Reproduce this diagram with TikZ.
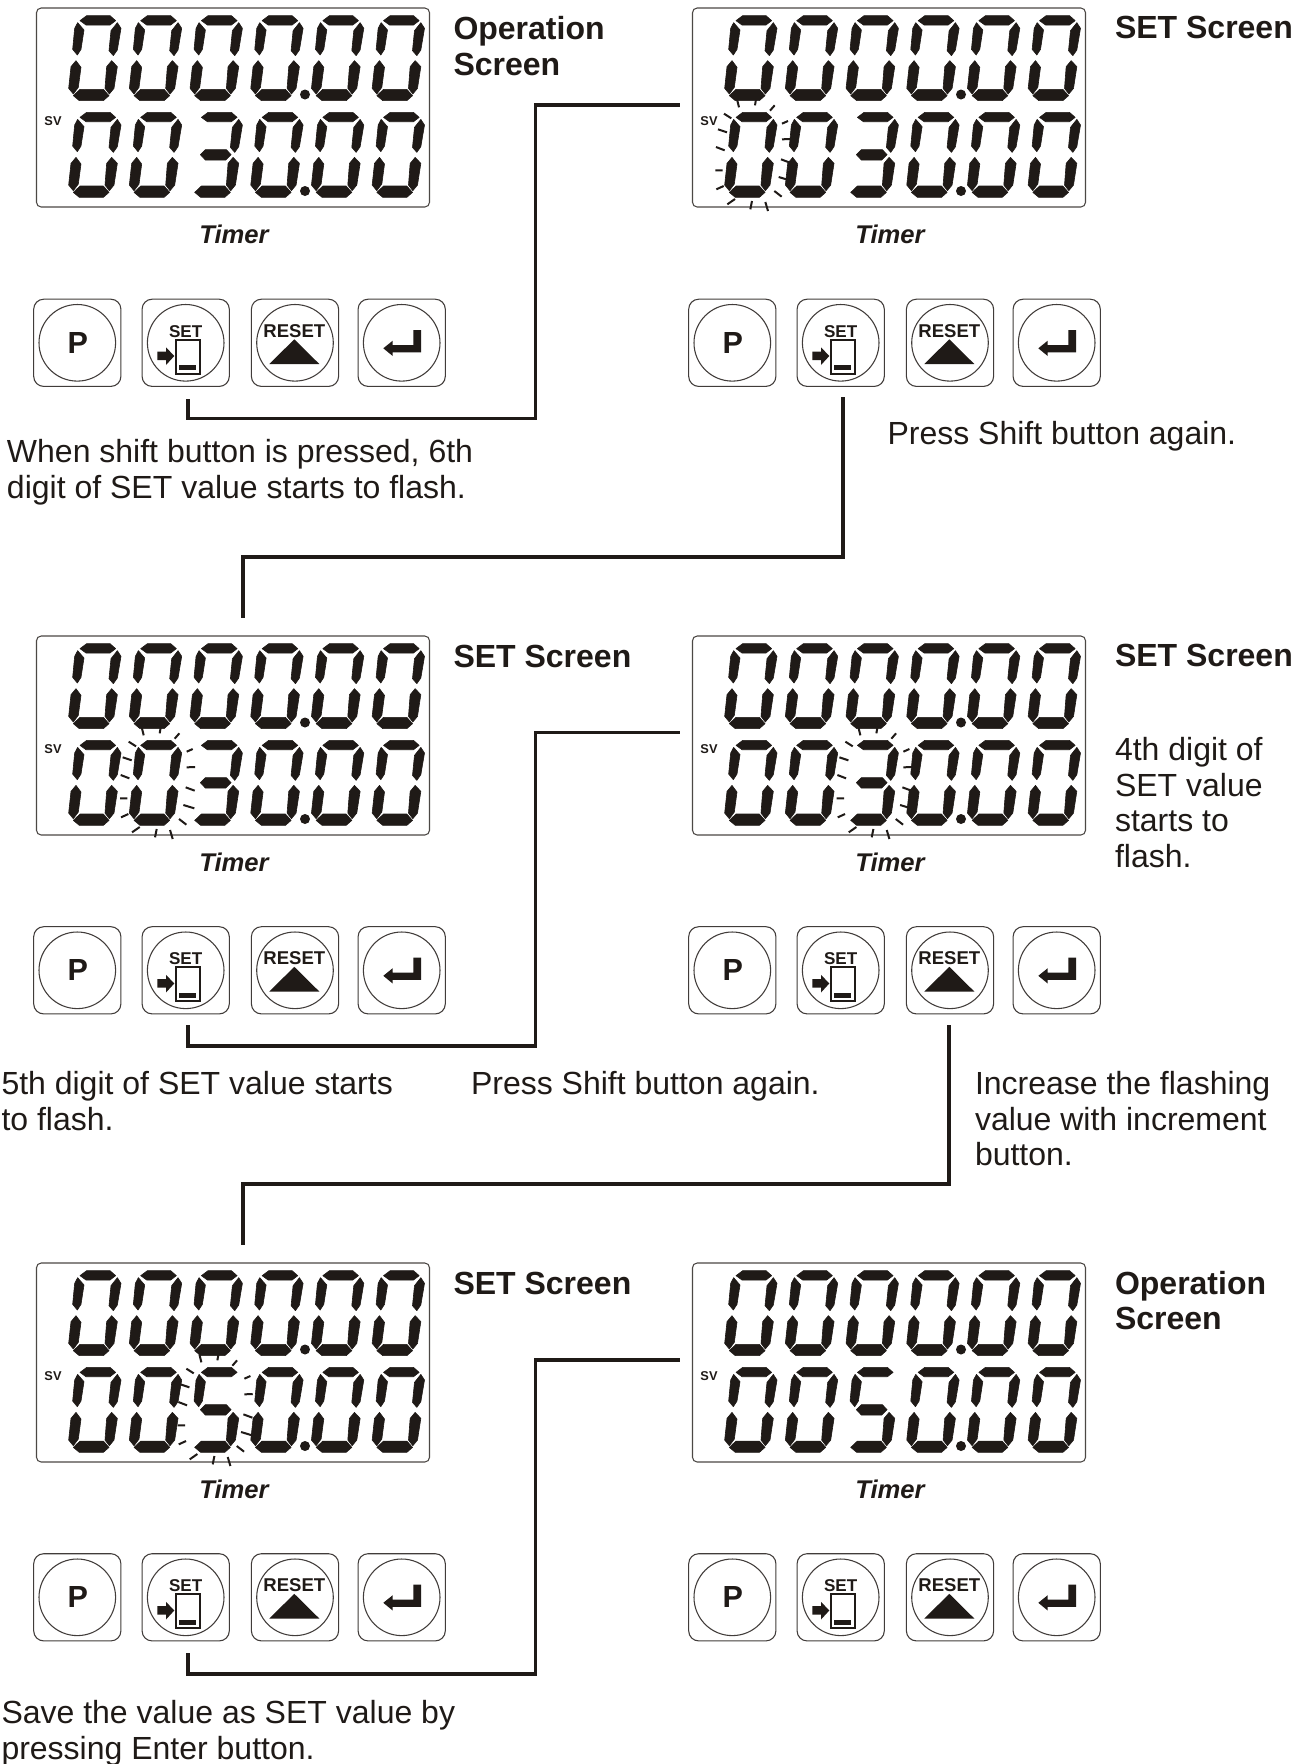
\documentclass[tikz,border=0pt]{standalone}
\usepackage{fontspec}
\setmainfont{Liberation Sans}
\definecolor{ink}{HTML}{1F1A17}
\tikzset{
  x=0.75pt,y=-0.75pt,
  lcd/.style={fill=ink,draw=ink,line width=0.45pt,line join=round},
  panelbox/.style={draw=ink!80,line width=0.8pt,rounded corners=3.5pt,fill=white},
  btnbox/.style={draw=ink!85,line width=0.8pt,rounded corners=7.5pt,fill=white},
  btncirc/.style={draw=ink!85,line width=0.8pt,fill=white},
  conn/.style={draw=ink,line width=2.5pt,line cap=butt,line join=miter},
  tick/.style={draw=ink,line width=1.5pt},
  body/.style={anchor=base west,inner sep=0pt,outer sep=0pt,text=ink,font=\fontsize{24}{28}\selectfont},
  head/.style={body,font=\fontsize{24}{28}\selectfont\bfseries},
  timer/.style={anchor=base,inner sep=0pt,text=ink,font=\fontsize{19.2}{22}\selectfont\bfseries\itshape},
  svlab/.style={anchor=center,inner sep=0pt,text=ink,font=\fontsize{9.6}{11}\selectfont\bfseries},
  btnlab/.style={anchor=base,inner sep=0pt,text=ink,font=\bfseries},
}
\def\sega{\fill[lcd] (60,32)--(80,17)--(150,17)--(167,32)--(150,45)--(78,45)--cycle;}
\def\segf{\fill[lcd] (53,38)--(72,60)--(63,118)--(52,135)--(38,118)--(44,55)--cycle;}
\def\segb{\fill[lcd] (172,38)--(183,55)--(172,120)--(160,137)--(147,122)--(153,62)--cycle;}
\def\sege{\fill[lcd] (48,152)--(63,172)--(55,232)--(40,252)--(26,235)--(33,170)--cycle;}
\def\segc{\fill[lcd] (155,152)--(172,170)--(162,235)--(148,252)--(135,235)--(140,170)--cycle;}
\def\segd{\fill[lcd] (40,257)--(60,238)--(130,238)--(147,257)--(130,272)--(58,272)--cycle;}
\def\segg{\fill[lcd] (57,144)--(72,129)--(135,129)--(149,144)--(133,160)--(72,160)--cycle;}
% digit: panel-x, panel-y, index, row, segments
\newcommand\lcddigit[5]{%
  \begin{scope}[shift={({#1+60+60.7*#3},{#2+10+96.7*#4})},x=0.25pt,y=-0.25pt]
    \foreach \s in {#5}{\csname seg\s\endcsname}
  \end{scope}}
\newcommand\lcdpanel[3]{%
  \path[panelbox] ({#1+36.5},{#2+8}) rectangle ({#1+429.5},{#2+207});
  \foreach \i in {0,...,5}{\lcddigit{#1}{#2}{\i}{0}{a,b,c,d,e,f}}
  \lcddigit{#1}{#2}{0}{1}{a,b,c,d,e,f}
  \lcddigit{#1}{#2}{1}{1}{a,b,c,d,e,f}
  \lcddigit{#1}{#2}{2}{1}{#3}
  \lcddigit{#1}{#2}{3}{1}{a,b,c,d,e,f}
  \lcddigit{#1}{#2}{4}{1}{a,b,c,d,e,f}
  \lcddigit{#1}{#2}{5}{1}{a,b,c,d,e,f}
  \fill[ink] ({#1+305},{#2+94.5}) circle[radius=5];
  \fill[ink] ({#1+305},{#2+191}) circle[radius=5];
  \node[svlab] at ({#1+53},{#2+121.5}) {SV};
  \node[timer] at ({#1+234},{#2+243}) {Timer};
}
% flash ticks around a digit: panel-x, panel-y, x offset
\newcommand\flash[3]{%
  \begin{scope}[shift={({#1+60+#3},{#2+10})},x=0.25pt,y=-0.25pt]
    \draw[tick,line width=1.5pt] (63,268)--(69,292) (120,268)--(117,286) (176,286)--(162,302) (24,311)--(46,325)
      (6,358)--(33,367) (0,411)--(26,421) (-2,481)--(20,481) (1,538)--(23,528)
      (34,583)--(57,567) (108,573)--(103,598) (148,576)--(156,603) (175,543)--(197,560)
      (188,501)--(221,511) (195,448)--(222,458) (198,388)--(223,387) (198,341)--(216,333);
  \end{scope}}
\newcommand\btnframe[2]{%
  \path[btnbox] ({#1-43.6},{#2-43.6}) rectangle ({#1+43.6},{#2+43.6});
  \path[btncirc] (#1,#2) circle[radius=38.3];}
\newcommand\buttons[2]{%
  \btnframe{#1+77.3}{#2+342.8}
  \node[btnlab,font=\fontsize{22.9}{24}\selectfont\bfseries] at ({#1+77.8},{#2+353}) {P};
  \btnframe{#1+185.7}{#2+342.8}
  \node[btnlab,font=\fontsize{12.8}{14}\selectfont\bfseries] at ({#1+185.7},{#2+337}) {SET};
  \draw[ink,line width=1.5pt] ({#1+175.8},{#2+339.5}) rectangle ({#1+200.2},{#2+373.5});
  \fill[ink] ({#1+179.3},{#2+365}) rectangle ({#1+196},{#2+370});
  \fill[ink] ({#1+157.3},{#2+351.7})--({#1+166},{#2+351.7})--({#1+166},{#2+347.3})--({#1+174.3},{#2+356})--({#1+166},{#2+365})--({#1+166},{#2+360})--({#1+157.3},{#2+360})--cycle;
  \btnframe{#1+295}{#2+342.8}
  \node[btnlab,font=\fontsize{13.9}{15}\selectfont\bfseries] at ({#1+294.3},{#2+337}) {RESET};
  \fill[ink] ({#1+269.3},{#2+364})--({#1+319.3},{#2+364})--({#1+294.3},{#2+339.3})--cycle;
  \btnframe{#1+401.7}{#2+342.8}
  \fill[ink] ({#1+421},{#2+330})--({#1+413.3},{#2+330})--({#1+413.3},{#2+345})--({#1+392.7},{#2+345})--({#1+392.7},{#2+340.7})--({#1+383.3},{#2+348.3})--({#1+392.7},{#2+356})--({#1+392.7},{#2+352.3})--({#1+421},{#2+352.3})--cycle;
}
\begin{document}
\begin{tikzpicture}
\useasboundingbox (0,0) rectangle (1306,1764);
\fill[white] (0,0) rectangle (1306,1764);
% panels
\lcdpanel{0}{0}{a,b,c,d,g}
\lcdpanel{656}{0}{a,b,c,d,g}
\lcdpanel{0}{628}{a,b,c,d,g}
\lcdpanel{656}{628}{a,b,c,d,g}
\lcdpanel{0}{1255}{a,f,g,c,d}
\lcdpanel{656}{1255}{a,f,g,c,d}
% flashing digits
\flash{656}{0}{0}
\flash{0}{628}{60.7}
\flash{656}{628}{121.4}
\flash{0}{1255}{118.4}
% buttons
\buttons{0}{0}
\buttons{655}{0}
\buttons{0}{627.5}
\buttons{655}{627.5}
\buttons{0}{1254.5}
\buttons{655}{1254.5}
% connectors
\coordinate (c1a) at (188,399);
\coordinate (c1b) at (535.5,418.5);
\coordinate (c1c) at (680,105);
\draw[conn] (c1a) |- (c1b) -- (c1b |- c1c) -- (c1c);
\coordinate (c2a) at (843,397);
\coordinate (c2b) at (243,557);
\coordinate (c2c) at (243,618);
\draw[conn] (c2a) |- (c2b) -- (c2c);
\coordinate (c3a) at (188,1025);
\coordinate (c3b) at (535.5,1046);
\coordinate (c3c) at (680,732.5);
\draw[conn] (c3a) |- (c3b) -- (c3b |- c3c) -- (c3c);
\coordinate (c4a) at (949,1025);
\coordinate (c4b) at (243,1184);
\coordinate (c4c) at (243,1245);
\draw[conn] (c4a) |- (c4b) -- (c4c);
\coordinate (c5a) at (188,1653);
\coordinate (c5b) at (535.5,1674);
\coordinate (c5c) at (680,1360);
\draw[conn] (c5a) |- (c5b) -- (c5b |- c5c) -- (c5c);
% texts
\node[head] (t1a) at (453.5,39) {Operation};
\node[head] (t1b) at (453.5,75) {Screen};
\node[head] (t2) at (1115,38) {SET Screen};
\node[body] (t3a) at (7,462) {When shift button is pressed, 6th};
\node[body] (t3b) at (7,498) {digit of SET value starts to flash.};
\node[body] (t4) at (887.5,444) {Press Shift button again.};
\node[head] (t5) at (453.5,667) {SET Screen};
\node[head] (t6) at (1115,666) {SET Screen};
\node[body] (t7a) at (1115,760.5) {4th digit of};
\node[body] (t7b) at (1115,796.5) {SET value};
\node[body] (t7c) at (1115,831) {starts to};
\node[body] (t7d) at (1115,867) {flash.};
\node[body] (t8a) at (1.5,1094.5) {5th digit of SET value starts};
\node[body] (t8b) at (1.5,1130.5) {to flash.};
\node[body] (t9) at (471,1094.5) {Press Shift button again.};
\node[body] (t10a) at (975,1094.5) {Increase the flashing};
\node[body] (t10b) at (975,1130) {value with increment};
\node[body] (t10c) at (975,1165) {button.};
\node[head] (t11) at (453.5,1294) {SET Screen};
\node[head] (t12a) at (1115,1294) {Operation};
\node[head] (t12b) at (1115,1329) {Screen};
\node[body] (t13a) at (1.5,1723) {Save the value as SET value by};
\node[body] (t13b) at (1.5,1759) {pressing Enter button.};
\end{tikzpicture}
\end{document}
